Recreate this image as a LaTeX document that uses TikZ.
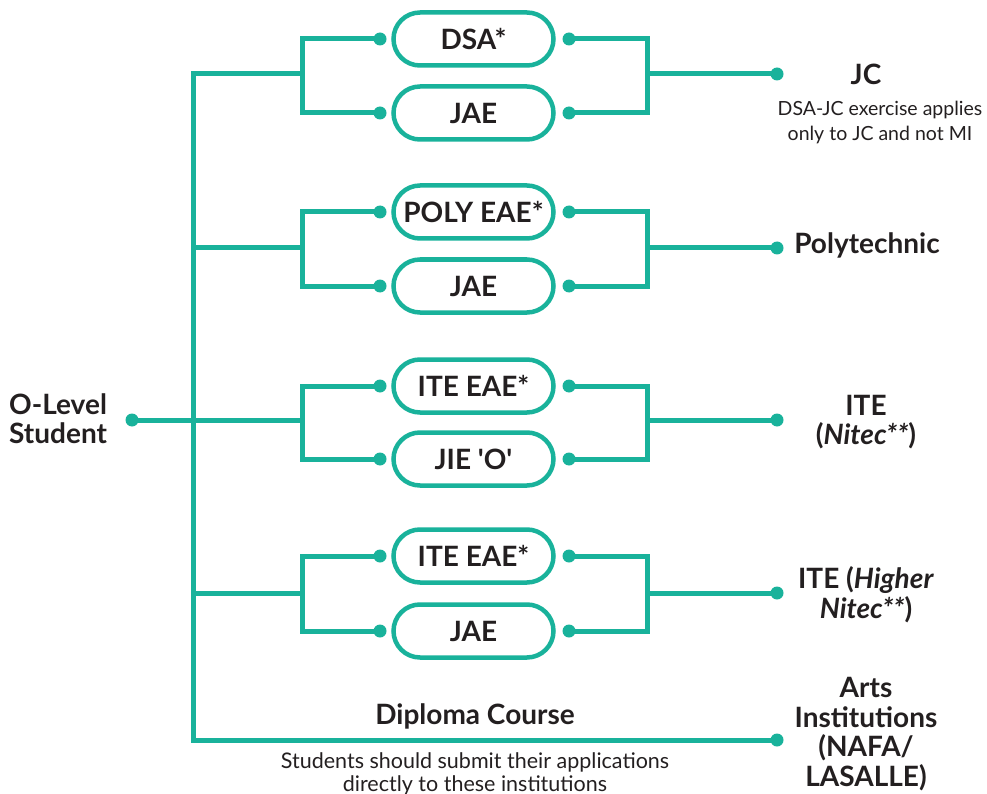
\documentclass[tikz,border=0pt]{standalone}
\usepackage{fontspec}
\setmainfont{Lato}
\definecolor{teal1}{HTML}{19B29B}
\definecolor{ink}{HTML}{231F20}
\begin{document}
\begin{tikzpicture}[x=1pt,y=-1pt,
  conn/.style={draw=teal1,line width=5pt,line join=miter},
  box/.style={draw=teal1,line width=4.5pt,rounded corners=26.5pt,minimum width=160pt,minimum height=53pt,
    font=\fontsize{28}{30}\selectfont\bfseries,text=ink,inner sep=0pt},
  lbl/.style={font=\fontsize{28}{29.5}\selectfont\bfseries,text=ink,align=center,inner sep=0pt},
  note/.style={font=\fontsize{19.5}{25}\selectfont,text=ink,align=center,inner sep=0pt},
  bignote/.style={font=\fontsize{21.5}{22.5}\selectfont,text=ink,align=center,inner sep=0pt},
  dot/.style={fill=teal1,circle,inner sep=0pt,minimum size=13pt}]
\useasboundingbox (0,0) rectangle (987,794);

% boxes
\node[box] (b1a) at (473.5,39) {DSA*};
\node[box] (b1b) at (473.5,113) {JAE};
\node[box] (b2a) at (473.5,212) {POLY EAE*};
\node[box] (b2b) at (473.5,286) {JAE};
\node[box] (b3a) at (473.5,386) {ITE EAE*};
\node[box] (b3b) at (473.5,459) {JIE \textquotesingle O\textquotesingle};
\node[box] (b4a) at (473.5,556) {ITE EAE*};
\node[box] (b4b) at (473.5,631) {JAE};

% dots
\foreach \n/\y in {1a/39,1b/113,2a/212,2b/286,3a/386,3b/459,4a/556,4b/631}{
  \node[dot] (l\n) at (380,\y) {};
  \node[dot] (r\n) at (569,\y) {};
}
\node[dot] (src) at (132,420) {};
\node[dot] (e1) at (777,74) {};
\node[dot] (e2) at (777,248) {};
\node[dot] (e3) at (777,420) {};
\node[dot] (e4) at (777,593) {};
\node[dot] (e5) at (777,740) {};

% junction coordinates
\coordinate (t1) at (193,74);
\coordinate (t2) at (193,248);
\coordinate (t3) at (193,420);
\coordinate (t4) at (193,593);
\coordinate (t5) at (193,740);
\coordinate (s1) at (302,74);
\coordinate (s2) at (302,248);
\coordinate (s3) at (302,420);
\coordinate (s4) at (302,593);
\coordinate (m1) at (647,74);
\coordinate (m2) at (647,248);
\coordinate (m3) at (647,420);
\coordinate (m4) at (647,593);

% trunk
\draw[conn] (s1) -- (t1) -- (t5) -- (e5.center);
\draw[conn] (src.center) -- (t3);
\draw[conn] (t2) -- (s2);
\draw[conn] (t3) -- (s3);
\draw[conn] (t4) -- (s4);

% forks
\foreach \k in {1,2,3,4}{
  \draw[conn] (l\k a.center) -| (s\k) |- (l\k b.center);
  \draw[conn] (r\k a.center) -| (m\k) |- (r\k b.center);
  \draw[conn] (m\k) -- (e\k.center);
}

% labels
\node[lbl,anchor=west,align=left] (olevel) at (9,418.5) {O-Level\\Student};
\node[lbl] (jc) at (866,74) {JC};
\node[note] (jcnote) at (880,122) {DSA-JC exercise applies\\only to JC and not MI};
\node[lbl] (poly) at (867,245) {Polytechnic};
\node[lbl] (ite) at (866,422) {ITE\\(\textit{Nitec**})};
\node[lbl] (hite) at (866,594.5) {ITE (\textit{Higher}\\\textit{Nitec**})};
\node[lbl] (arts) at (866,734) {Arts\\Institutions\\(NAFA/\\LASALLE)};
\node[lbl] (dip) at (475,716) {Diploma Course};
\node[bignote] (dipnote) at (475,774) {Students should submit their applications\\directly to these institutions};
\end{tikzpicture}
\end{document}
